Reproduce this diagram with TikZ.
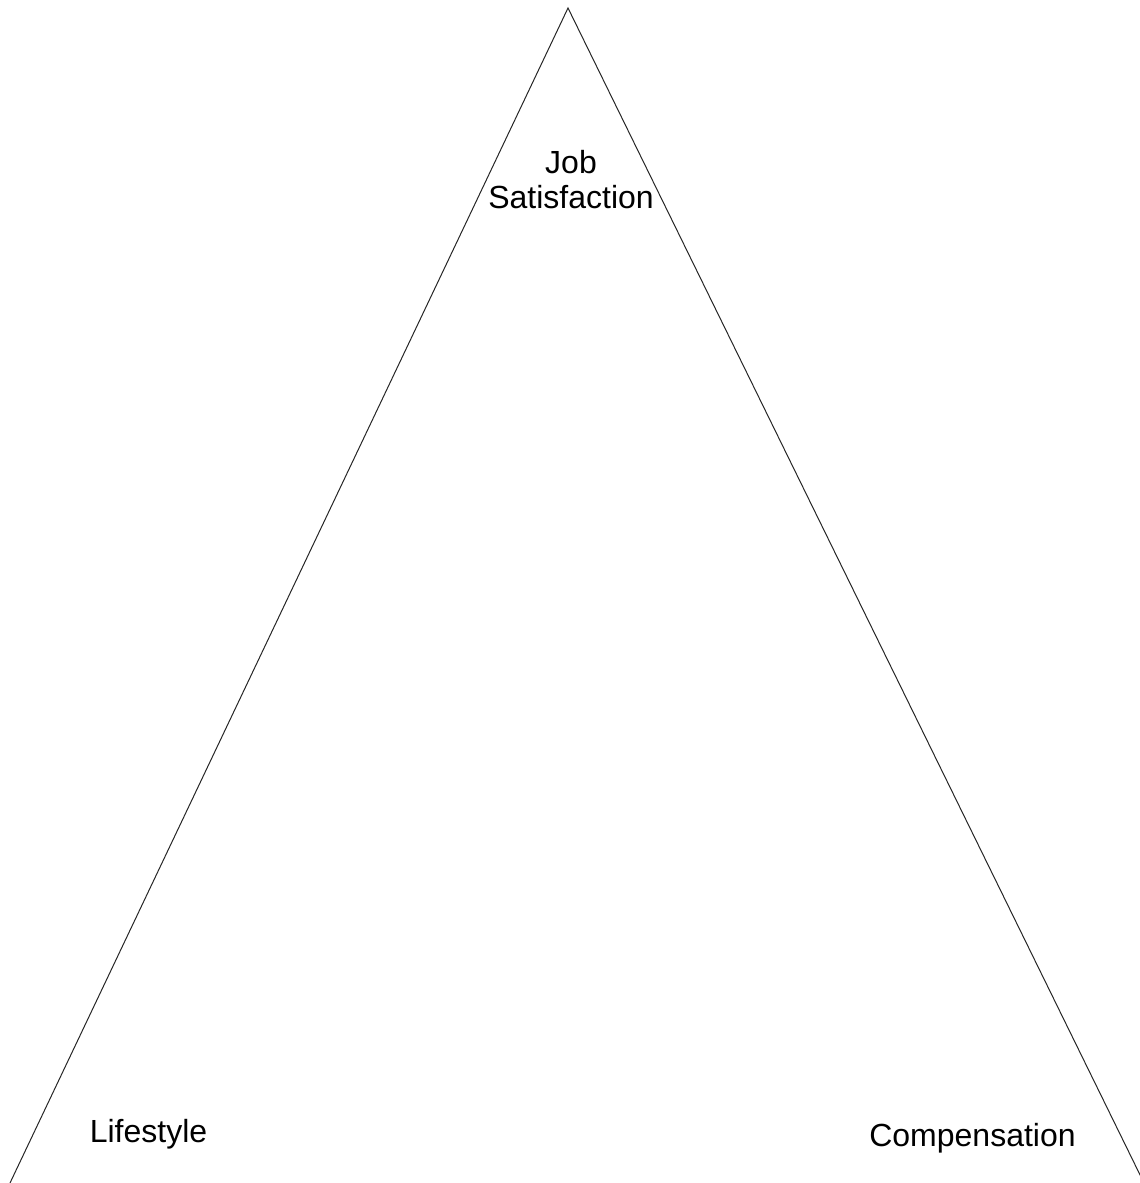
\documentclass[tikz,border=0pt]{standalone}
\usepackage{fontspec}
\setmainfont{Liberation Sans}
\begin{document}
\begin{tikzpicture}[x=1pt,y=-1pt,
  lbl/.style={inner sep=0pt,anchor=base,font=\fontsize{32}{35}\selectfont,align=center},
  side/.style={line width=1pt,draw=black!85}]
\useasboundingbox (0,0) rectangle (1140,1183);
\clip (0,0) rectangle (1140,1183);
\coordinate (apex) at (568,8);
\coordinate (bl) at (10,1183);
\coordinate (br) at (1144,1183);
\draw[side] (bl) -- (apex) -- (br);
\node[lbl] (job) at (571,208) {Job\\Satisfaction};
\node[lbl] (life) at (148.5,1142) {Lifestyle};
\node[lbl] (comp) at (972.5,1146) {Compensation};
\end{tikzpicture}
\end{document}
